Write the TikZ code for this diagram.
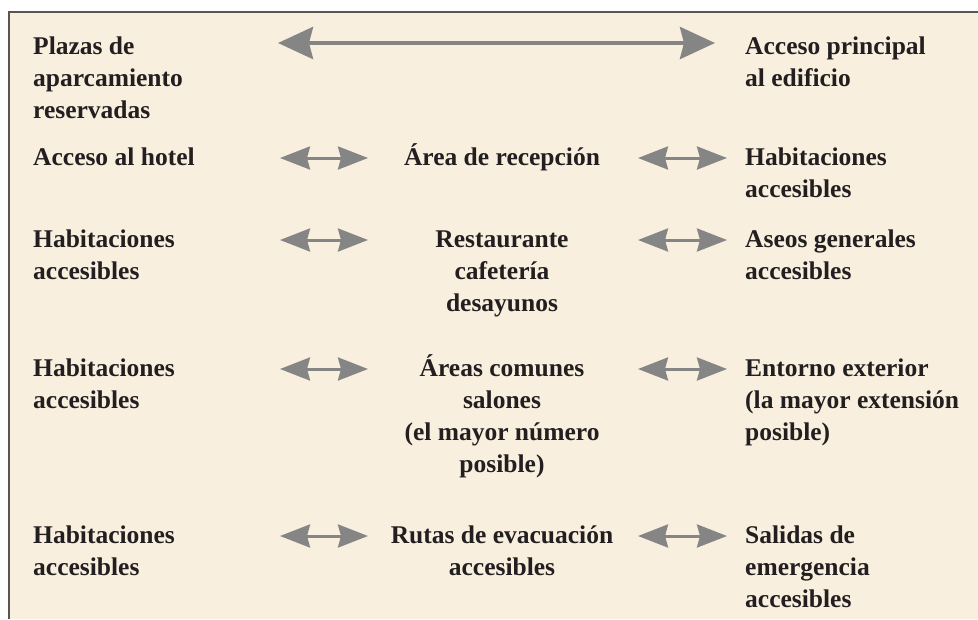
\documentclass[tikz,border=0pt]{standalone}
\usepackage{fontspec}
\setmainfont{Liberation Serif}
\usetikzlibrary{arrows.meta}
\definecolor{bg}{HTML}{F9EFDF}
\definecolor{ink}{HTML}{231F20}
\definecolor{arr}{HTML}{858585}
\definecolor{framec}{HTML}{5A5550}
\newcommand{\rowtop}{\rule{0pt}{24pt}}
\begin{document}
\begin{tikzpicture}[x=1pt,y=-1pt,
  lbl/.style={inner sep=0pt, text=ink, font=\fontsize{25.5}{32}\selectfont\bfseries},
  lft/.style={lbl, align=left, anchor=north west},
  ctr/.style={lbl, align=center, anchor=north},
  bigarrow/.style={draw=arr, line width=4pt,
    {Stealth[length=35pt,width=32pt,inset=4pt]}-{Stealth[length=35pt,width=32pt,inset=4pt]}},
  smallarrow/.style={draw=arr, line width=3pt,
    {Stealth[length=30pt,width=23pt,inset=3pt]}-{Stealth[length=30pt,width=23pt,inset=3pt]}}
]
\useasboundingbox (0,0) rectangle (978,619);
\fill[bg] (9,12) rectangle (978,619);
\draw[framec, line width=1.5pt] (9,619) -- (9,12) -- (978,12);

% left column
\node[lft] (l1) at (33,30) {\rowtop Plazas de\\aparcamiento\\reservadas};
\node[lft] (l2) at (33,141) {\rowtop Acceso al hotel};
\node[lft] (l3) at (33,223) {\rowtop Habitaciones\\accesibles};
\node[lft] (l4) at (33,352) {\rowtop Habitaciones\\accesibles};
\node[lft] (l5) at (33,519) {\rowtop Habitaciones\\accesibles};

% centre column
\node[ctr] (c2) at (502,141) {\rowtop Área de recepción};
\node[ctr] (c3) at (502,223) {\rowtop Restaurante\\cafetería\\desayunos};
\node[ctr] (c4) at (502,352) {\rowtop Áreas comunes\\salones\\(el mayor número\\posible)};
\node[ctr] (c5) at (502,519) {\rowtop Rutas de evacuación\\accesibles};

% right column
\node[lft] (r1) at (745,30) {\rowtop Acceso principal\\al edificio};
\node[lft] (r2) at (745,141) {\rowtop Habitaciones\\accesibles};
\node[lft] (r3) at (745,223) {\rowtop Aseos generales\\accesibles};
\node[lft] (r4) at (745,352) {\rowtop Entorno exterior\\(la mayor extensión\\posible)};
\node[lft] (r5) at (745,519) {\rowtop Salidas de\\emergencia\\accesibles};

% arrow end points
\coordinate (t1) at (278,43);  \coordinate (t2) at (715,43);
\foreach \n/\y in {2/158,3/240,4/369,5/536}{
  \coordinate (la\n) at (280,\y); \coordinate (lb\n) at (368,\y);
  \coordinate (ra\n) at (638,\y); \coordinate (rb\n) at (727,\y);
}

\draw[bigarrow] (t1) -- (t2);
\foreach \n in {2,3,4,5}{
  \draw[smallarrow] (la\n) -- (lb\n);
  \draw[smallarrow] (ra\n) -- (rb\n);
}
\end{tikzpicture}
\end{document}
